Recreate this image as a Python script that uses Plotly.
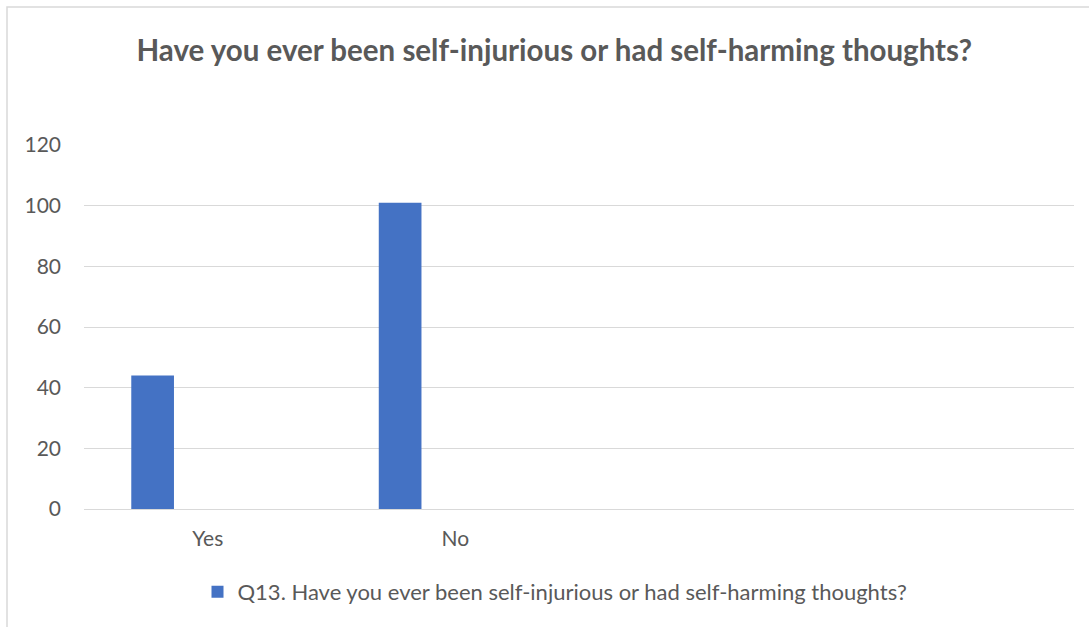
import plotly.graph_objects as go

# Survey responses
categories = ["Yes", "No"]
responses = [44, 101]
series_name = "Q13. Have you ever been self-injurious or had self-harming thoughts?"
chart_title = "Have you ever been self-injurious or had self-harming thoughts?"
y_ticks = [0, 20, 40, 60, 80, 100, 120]

W, H = 1089, 627
M_L, M_R, M_T, M_B = 84, 15, 145, 118
plot_w = W - M_L - M_R
plot_h = H - M_T - M_B

FONT = "Lato, 'Open Sans', sans-serif"
TXT = "#595959"
GRID = "#D9D9D9"

x_pos = list(range(len(categories)))

fig = go.Figure(
    go.Bar(
        x=x_pos,
        y=responses,
        name=series_name,
        marker=dict(color="#4472C4", line=dict(width=0)),
        width=0.1725,
        offset=-0.309,
        showlegend=True,
    )
)


def px_x(px):
    return (px - M_L) / plot_w


def px_y(px):
    return (H - M_B - px) / plot_h


fig.update_layout(
    width=W,
    height=H,
    margin=dict(l=M_L, r=M_R, t=M_T, b=M_B, autoexpand=False),
    paper_bgcolor="white",
    plot_bgcolor="white",
    font=dict(family=FONT, color=TXT, size=21),
    title=dict(
        text="<b>" + chart_title + "</b>",
        x=0.509,
        xanchor="center",
        y=1 - 51 / H,
        yanchor="middle",
        font=dict(family=FONT, size=29.5, color=TXT),
    ),
    xaxis=dict(
        range=[-0.5, 3.5],
        tickvals=x_pos,
        ticktext=categories,
        showgrid=False,
        zeroline=False,
        showline=False,
        ticks="",
        ticklabelstandoff=15,
        tickfont=dict(family=FONT, size=21, color=TXT),
    ),
    yaxis=dict(
        range=[0, 120],
        tickvals=y_ticks,
        showgrid=True,
        gridcolor=GRID,
        gridwidth=1,
        zeroline=True,
        zerolinecolor=GRID,
        zerolinewidth=1,
        showline=False,
        ticks="",
        ticklabelstandoff=22,
        tickfont=dict(family=FONT, size=21, color=TXT),
    ),
    legend=dict(
        orientation="h",
        x=px_x(555),
        xanchor="center",
        y=px_y(592),
        yanchor="middle",
        font=dict(family=FONT, size=22, color=TXT),
        itemwidth=30,
    ),
    shapes=[
        dict(
            type="rect",
            xref="paper",
            yref="paper",
            x0=px_x(7),
            x1=px_x(W + 20),
            y0=px_y(H + 20),
            y1=px_y(7),
            line=dict(color=GRID, width=1.5),
            fillcolor="rgba(0,0,0,0)",
            layer="below",
        )
    ],
)

fig.write_html("out.html")
